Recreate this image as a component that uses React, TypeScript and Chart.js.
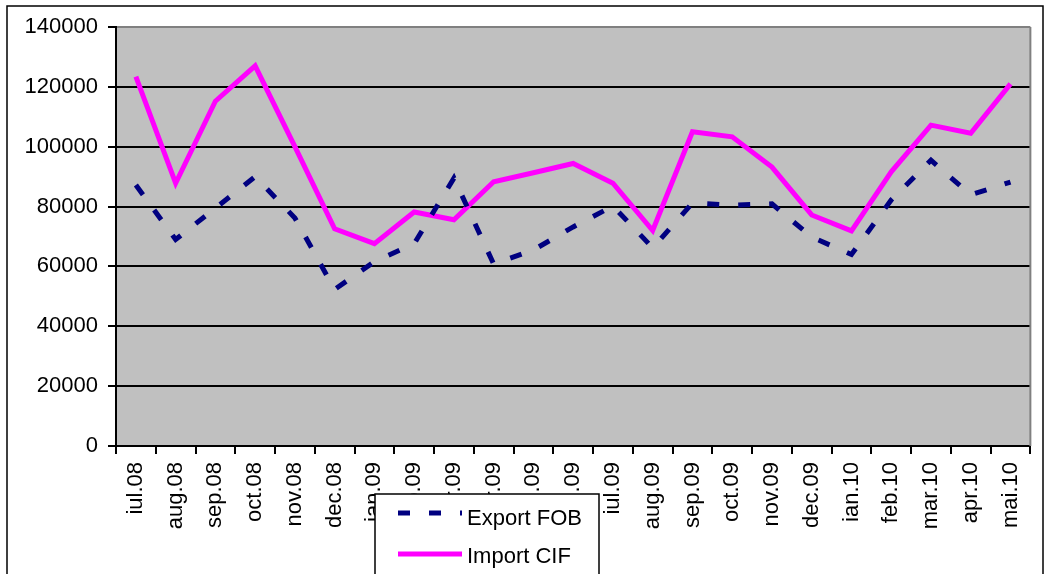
import React, { useEffect, useRef } from "react";
import { Chart, registerables } from "chart.js";

Chart.register(...registerables);

const categories: string[] = [
  "iul.08", "aug.08", "sep.08", "oct.08", "nov.08", "dec.08", "ian.09", "feb.09",
  "mar.09", "apr.09", "mai.09", "iun.09", "iul.09", "aug.09", "sep.09", "oct.09",
  "nov.09", "dec.09", "ian.10", "feb.10", "mar.10", "apr.10", "mai.10",
];

const exportFOB: number[] = [
  87200, 69000, 79500, 90000, 76200, 52300, 61600, 67600, 89500, 60800, 65500, 73200,
  80200, 66200, 81200, 80500, 80900, 69800, 64000, 82200, 95500, 83900, 88200,
];

const importCIF: number[] = [
  123400, 87800, 115200, 127000, 100000, 72600, 67600, 78200, 75600, 88300, 91300, 94400,
  87800, 72000, 105000, 103300, 93200, 77200, 71900, 91600, 107200, 104500, 121000,
];

const seriesNames: string[] = ["Export FOB", "Import CIF"];
const yTicks: number[] = [0, 20000, 40000, 60000, 80000, 100000, 120000, 140000];

const FONT = "'Liberation Sans', Arial, sans-serif";

const framePlugin = {
  id: "framePlugin",
  beforeDraw(chart: any) {
    const { ctx, chartArea } = chart;
    ctx.save();
    ctx.fillStyle = "#ffffff";
    ctx.fillRect(0, 0, chart.width, chart.height);
    ctx.fillStyle = "#c0c0c0";
    ctx.fillRect(chartArea.left, chartArea.top, chartArea.right - chartArea.left, chartArea.bottom - chartArea.top);
    ctx.restore();
  },
  beforeDatasetsDraw(chart: any) {
    const { ctx, chartArea } = chart;
    ctx.save();
    ctx.strokeStyle = "#808080";
    ctx.lineWidth = 2;
    ctx.beginPath();
    ctx.moveTo(chartArea.right, chartArea.top);
    ctx.lineTo(chartArea.right, chartArea.bottom);
    ctx.stroke();
    ctx.restore();
  },
  afterDraw(chart: any) {
    const { ctx } = chart;
    ctx.save();
    // legend box
    const lx = 375, ly = 494, lw = 224, lh = 110;
    ctx.fillStyle = "#ffffff";
    ctx.fillRect(lx, ly, lw, lh);
    ctx.strokeStyle = "#000000";
    ctx.lineWidth = 1.5;
    ctx.strokeRect(lx, ly, lw, lh);
    const rows = [513, 554];
    const textY = [525, 563];
    chart.data.datasets.forEach((ds: any, i: number) => {
      ctx.strokeStyle = ds.borderColor;
      ctx.lineWidth = ds.borderWidth;
      ctx.lineCap = "butt";
      ctx.setLineDash(ds.borderDash || []);
      ctx.beginPath();
      ctx.moveTo(398, rows[i]);
      ctx.lineTo(462, rows[i]);
      ctx.stroke();
      ctx.setLineDash([]);
      ctx.fillStyle = "#000000";
      ctx.font = `22px ${FONT}`;
      ctx.textBaseline = "alphabetic";
      ctx.textAlign = "left";
      ctx.fillText(ds.label, 467, textY[i]);
    });
    // outer border
    ctx.strokeStyle = "#000000";
    ctx.lineWidth = 1.5;
    ctx.strokeRect(7, 6, 1036, 620);
    ctx.restore();
  },
};

export default function App() {
  const canvasRef = useRef<HTMLCanvasElement | null>(null);

  useEffect(() => {
    document.body.style.margin = "0";
    const canvas = canvasRef.current;
    if (!canvas) return;
    const chart = new Chart(canvas, {
      type: "line",
      data: {
        labels: categories,
        datasets: [
          {
            label: seriesNames[0],
            data: exportFOB,
            borderColor: "#000080",
            backgroundColor: "#000080",
            borderWidth: 5,
            borderDash: [12, 19],
            borderCapStyle: "butt",
            pointRadius: 0,
            tension: 0,
            fill: false,
          },
          {
            label: seriesNames[1],
            data: importCIF,
            borderColor: "#ff00ff",
            backgroundColor: "#ff00ff",
            borderWidth: 5,
            pointRadius: 0,
            tension: 0,
            fill: false,
          },
        ],
      },
      options: {
        responsive: false,
        animation: false,
        devicePixelRatio: 1,
        layout: { padding: { left: 0, top: 27, right: 5, bottom: 0 } },
        plugins: { legend: { display: false }, tooltip: { enabled: false } },
        scales: {
          x: {
            type: "category",
            offset: true,
            grid: {
              offset: true,
              drawOnChartArea: false,
              drawTicks: true,
              tickLength: 8,
              color: "#000000",
              lineWidth: 2,
            },
            border: { display: true, color: "#000000", width: 2 },
            ticks: {
              autoSkip: false,
              maxRotation: 90,
              minRotation: 90,
              padding: 8,
              color: "#000000",
              font: { family: FONT, size: 22 },
            },
            afterFit: (scale: any) => {
              scale.height = 128;
            },
          },
          y: {
            min: yTicks[0],
            max: yTicks[yTicks.length - 1],
            afterBuildTicks: (scale: any) => {
              scale.ticks = yTicks.map((v) => ({ value: v }));
            },
            grid: {
              color: (c: any) => (c.tick && c.tick.value === yTicks[yTicks.length - 1] ? "#808080" : "#000000"),
              tickColor: "#000000",
              lineWidth: 2,
              drawTicks: true,
              tickLength: 8,
            },
            border: { display: true, color: "#000000", width: 2 },
            ticks: {
              padding: 10,
              color: "#000000",
              font: { family: FONT, size: 22 },
              callback: (v: any) => String(v),
            },
            afterFit: (scale: any) => {
              scale.width = 116;
            },
          },
        },
      },
      plugins: [framePlugin],
    } as any);
    return () => chart.destroy();
  }, []);

  return (
    <div style={{ width: 1045, height: 574, position: "relative" }}>
      <canvas ref={canvasRef} width={1045} height={574} style={{ display: "block" }} />
    </div>
  );
}
